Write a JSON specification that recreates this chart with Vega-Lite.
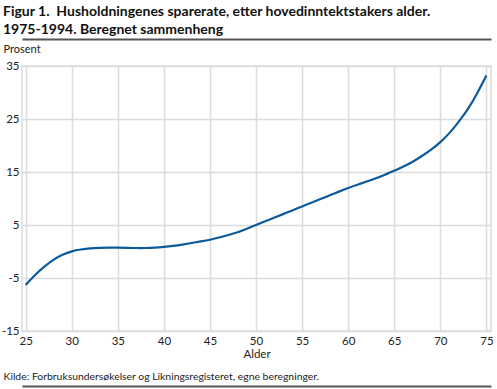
{
  "$schema": "https://vega.github.io/schema/vega-lite/v6.json",
  "autosize": "none",
  "width": 469,
  "height": 265,
  "padding": {"left": 22, "top": 66, "right": 6, "bottom": 58},
  "background": "white",
  "config": {
    "font": "Lato",
    "view": {"stroke": "#dcdcdc", "strokeWidth": 1.5},
    "axis": {"labelFont": "Lato", "titleFont": "Lato", "labelColor": "#222", "titleColor": "#222"}
  },
  "title": {
    "text": ["Figur 1.\u00a0 Husholdningenes sparerate, etter hovedinntektstakers alder.", "1975-1994. Beregnet sammenheng"],
    "anchor": "start",
    "frame": "group",
    "font": "Lato",
    "fontSize": 14,
    "fontWeight": "bold",
    "color": "#111",
    "lineHeight": 18,
    "dx": -19,
    "offset": 2
  },
  "data": {
    "values": [
      {"alder": 25, "v": -6.3}, {"alder": 26, "v": -4.4}, {"alder": 27, "v": -2.9}, {"alder": 28, "v": -1.5},
      {"alder": 29, "v": -0.6}, {"alder": 30, "v": 0.1}, {"alder": 31, "v": 0.4}, {"alder": 32, "v": 0.6},
      {"alder": 33, "v": 0.7}, {"alder": 34, "v": 0.75}, {"alder": 35, "v": 0.75}, {"alder": 36, "v": 0.7},
      {"alder": 37, "v": 0.65}, {"alder": 38, "v": 0.65}, {"alder": 39, "v": 0.7}, {"alder": 40, "v": 0.85},
      {"alder": 41, "v": 1.05}, {"alder": 42, "v": 1.3}, {"alder": 43, "v": 1.6}, {"alder": 44, "v": 1.9},
      {"alder": 45, "v": 2.2}, {"alder": 46, "v": 2.65}, {"alder": 47, "v": 3.1}, {"alder": 48, "v": 3.6},
      {"alder": 49, "v": 4.3}, {"alder": 50, "v": 5.0}, {"alder": 51, "v": 5.7}, {"alder": 52, "v": 6.4},
      {"alder": 53, "v": 7.1}, {"alder": 54, "v": 7.8}, {"alder": 55, "v": 8.5}, {"alder": 56, "v": 9.2},
      {"alder": 57, "v": 9.9}, {"alder": 58, "v": 10.6}, {"alder": 59, "v": 11.3}, {"alder": 60, "v": 12.0},
      {"alder": 61, "v": 12.6}, {"alder": 62, "v": 13.2}, {"alder": 63, "v": 13.8}, {"alder": 64, "v": 14.5},
      {"alder": 65, "v": 15.2}, {"alder": 66, "v": 16.0}, {"alder": 67, "v": 16.9}, {"alder": 68, "v": 18.0},
      {"alder": 69, "v": 19.2}, {"alder": 70, "v": 20.6}, {"alder": 71, "v": 22.3}, {"alder": 72, "v": 24.5},
      {"alder": 73, "v": 26.8}, {"alder": 74, "v": 29.8}, {"alder": 75, "v": 33.2}
    ]
  },
  "resolve": {"axis": {"x": "independent"}},
  "layer": [
    {
      "mark": {"type": "line", "color": "#0b5a9c", "strokeWidth": 2.2, "interpolate": "basis"},
      "encoding": {
        "x": {
          "field": "alder", "type": "quantitative",
          "scale": {"domain": [24.6, 75.5], "nice": false, "zero": false},
          "title": "Alder",
          "axis": {
            "values": [25, 30, 35, 40, 45, 50, 55, 60, 65, 70, 75],
            "grid": true, "gridColor": "#dcdcdc", "gridWidth": 1.5,
            "domain": false, "ticks": false,
            "labelFontSize": 11.5, "labelPadding": 4,
            "titleFontSize": 11.5, "titleFontWeight": "normal", "titlePadding": 2
          }
        },
        "y": {
          "field": "v", "type": "quantitative",
          "scale": {"domain": [-15, 35], "nice": false, "zero": false},
          "title": "Prosent",
          "axis": {
            "values": [-15, -5, 5, 15, 25, 35],
            "labelExpr": "datum.value + ''",
            "grid": true, "gridColor": "#dcdcdc", "gridWidth": 1.5,
            "domain": false, "ticks": false,
            "labelFontSize": 11.5, "labelPadding": 3,
            "titleFontSize": 11, "titleFontWeight": "normal",
            "titleAngle": 0, "titleAlign": "left", "titleBaseline": "middle",
            "titleX": -19, "titleY": -17
          }
        }
      }
    },
    {
      "mark": {"type": "line", "opacity": 0},
      "encoding": {
        "x": {
          "field": "alder", "type": "quantitative", "title": null,
          "axis": {"orient": "top", "offset": 27, "domain": true, "domainColor": "#555", "domainWidth": 2,
                   "labels": false, "ticks": false, "grid": false}
        },
        "y": {"field": "v", "type": "quantitative", "title": "Prosent"}
      }
    },
    {
      "mark": {"type": "line", "opacity": 0},
      "encoding": {
        "x": {
          "field": "alder", "type": "quantitative",
          "title": "Kilde: Forbruksundersøkelser og Likningsregisteret, egne beregninger.",
          "axis": {"orient": "bottom", "offset": 55, "domain": true, "domainColor": "#555", "domainWidth": 2,
                   "labels": false, "ticks": false, "grid": false,
                   "titleFontSize": 10.4, "titleFontWeight": "normal", "titleAlign": "left", "titleBaseline": "middle",
                   "titleX": -19, "titleY": -10}
        },
        "y": {"field": "v", "type": "quantitative", "title": "Prosent"}
      }
    }
  ]
}
